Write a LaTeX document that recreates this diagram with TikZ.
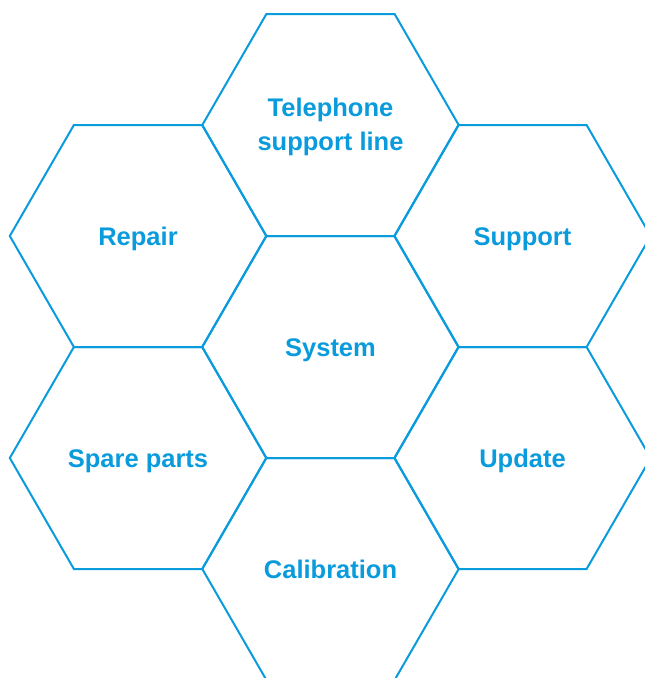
\documentclass[tikz,border=0pt]{standalone}
\usepackage{fontspec}
\setmainfont{Liberation Sans}
\definecolor{hexblue}{HTML}{0A9BDC}
\begin{document}
\begin{tikzpicture}[x=1pt,y=-1pt,
  hexline/.style={draw=hexblue,line width=2pt,line join=miter},
  lbl/.style={text=hexblue,font=\bfseries\fontsize{25.5}{34}\selectfont,align=center,inner sep=0pt,anchor=base}]
\useasboundingbox (0,0) rectangle (645,678);
\clip (0,0) rectangle (645,678);
\coordinate (csystem) at (330.5,347);
\coordinate (ctel) at (330.5,125);
\coordinate (ccal) at (330.5,569);
\coordinate (crepair) at (138,236);
\coordinate (cspare) at (138,458);
\coordinate (csupport) at (522.5,236);
\coordinate (cupdate) at (522.5,458);
\node[lbl] (system) at ([yshift=-9pt]csystem) {System};
\node[lbl] (tel) at ([yshift=-25pt]ctel) {Telephone\\support line};
\node[lbl] (cal) at ([yshift=-9pt]ccal) {Calibration};
\node[lbl] (repair) at ([yshift=-9pt]crepair) {Repair};
\node[lbl] (spare) at ([yshift=-9pt]cspare) {Spare parts};
\node[lbl] (support) at ([yshift=-9pt]csupport) {Support};
\node[lbl] (update) at ([yshift=-9pt]cupdate) {Update};
\foreach \n in {csystem,ctel,ccal,crepair,cspare,csupport,cupdate}{
  \draw[hexline] (\n) ++(-128.2,0) -- ++(64.1,-111) -- ++(128.2,0) -- ++(64.1,111) -- ++(-64.1,111) -- ++(-128.2,0) -- cycle;
}
\end{tikzpicture}
\end{document}
